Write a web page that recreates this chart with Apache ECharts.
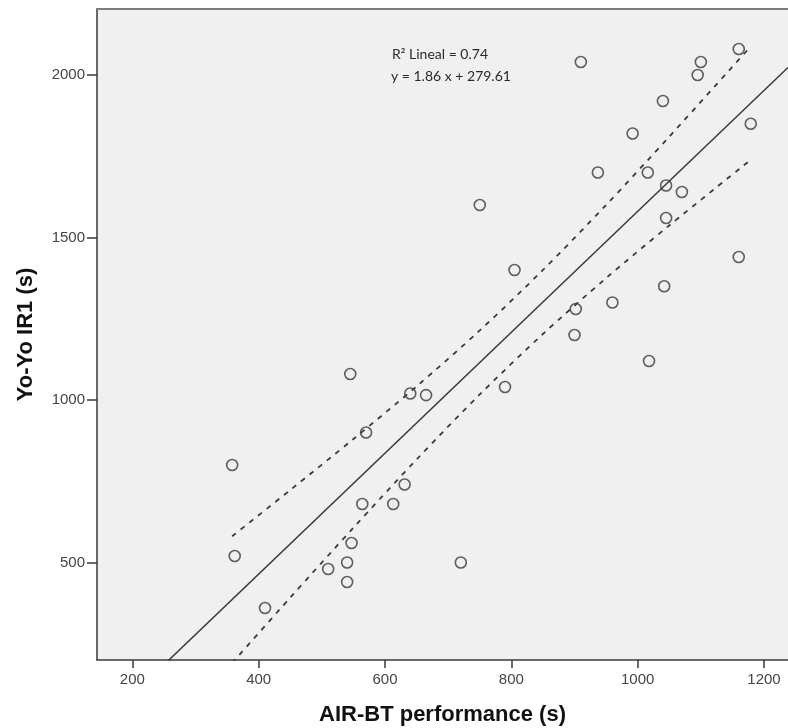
<!DOCTYPE html>
<html>
<head>
<meta charset="utf-8">
<script src="https://cdn.jsdelivr.net/npm/echarts@6/dist/echarts.min.js"></script>
<style>
html,body{margin:0;padding:0;background:#fff;}
#chart{width:788px;height:728px;}
</style>
</head>
<body>
<div id="chart"></div>
<script>
// ---- Data ----
var airbt = [358,362,410,510,540,540,547,545,564,570,613,631,640,665,720,750,790,805,910,902,900,937,960,992,1016,1018,1040,1042,1045,1045,1070,1095,1100,1160,1160,1179];
var yoyo  = [800,520,360,480,500,440,560,1080,680,900,680,740,1020,1015,500,1600,1040,1400,2040,1280,1200,1700,1300,1820,1700,1120,1920,1350,1660,1560,1640,2000,2040,2080,1440,1850];

// fitted line (as drawn): y = slope * x + intercept
var fitSlope = 1.86;
var fitIntercept = -279.61;
var fitX = [144, 1238];

// 95% mean confidence band (dashed)
var ciX     = [358, 450, 550, 650, 750, 850, 950, 1050, 1179];
var ciUpper = [581, 723, 880, 1042, 1214, 1400, 1600, 1810, 2088];
var ciLower = [191, 392, 607, 817, 1017, 1203, 1375, 1537, 1739];

var xTicks = [200, 400, 600, 800, 1000, 1200];
var yTicks = [500, 1000, 1500, 2000];

var xTitle = 'AIR-BT performance (s)';
var yTitle = 'Yo-Yo IR1 (s)';
var note1 = 'R\u00B2 Lineal = 0.74';
var note2 = 'y = 1.86 x + 279.61';

// ---- Build ----
var scatterData = airbt.map(function (x, i) { return [x, yoyo[i]]; });
var fitData = fitX.map(function (x) { return [x, fitSlope * x + fitIntercept]; });
var upData = ciX.map(function (x, i) { return [x, ciUpper[i]]; });
var loData = ciX.map(function (x, i) { return [x, ciLower[i]]; });

var axisColor = '#3a3a3a';
var plain = function (v) { return String(v); };
var chart = echarts.init(document.getElementById('chart'), null, {renderer: 'canvas'});
chart.setOption({
  animation: false,
  backgroundColor: '#ffffff',
  grid: {
    left: 97, top: 9, right: 0, bottom: 68,
    show: true, backgroundColor: '#f0f0f0', borderWidth: 0,
    containLabel: false, outerBoundsMode: 'none'
  },
  xAxis: [{
    type: 'value', min: 144, max: 1238, position: 'bottom',
    axisLine: {show: true, lineStyle: {color: axisColor, width: 1.5}},
    axisTick: {show: true, length: 8, customValues: xTicks, lineStyle: {color: axisColor, width: 1.5}},
    axisLabel: {customValues: xTicks, formatter: plain, margin: 12, color: '#444', fontSize: 15, fontFamily: 'Liberation Sans'},
    splitLine: {show: false},
    name: xTitle, nameLocation: 'middle', nameGap: 44,
    nameTextStyle: {fontSize: 22, fontWeight: 'bold', color: '#111', fontFamily: 'Liberation Sans'}
  }, {
    type: 'value', min: 144, max: 1238, position: 'top',
    axisLine: {show: true, lineStyle: {color: '#7e7e7e', width: 2}},
    axisTick: {show: false}, axisLabel: {show: false}, splitLine: {show: false}
  }],
  yAxis: {
    type: 'value', min: 200, max: 2203,
    axisLine: {show: true, lineStyle: {color: axisColor, width: 1.5}},
    axisTick: {show: true, length: 10, customValues: yTicks, lineStyle: {color: axisColor, width: 1.5}},
    axisLabel: {customValues: yTicks, formatter: plain, margin: 12, color: '#444', fontSize: 15, fontFamily: 'Liberation Sans'},
    splitLine: {show: false},
    name: yTitle, nameLocation: 'middle', nameGap: 60,
    nameTextStyle: {fontSize: 22, fontWeight: 'bold', color: '#111', fontFamily: 'Liberation Sans'}
  },
  series: [{
    type: 'line', data: fitData, showSymbol: false, symbol: 'none', clip: true,
    lineStyle: {color: '#3a3a3a', width: 1.5}, z: 2
  }, {
    type: 'line', data: upData, showSymbol: false, symbol: 'none', smooth: 0.3, clip: true,
    lineStyle: {color: '#3a3a3a', width: 1.8, type: [5, 6]}, z: 2
  }, {
    type: 'line', data: loData, showSymbol: false, symbol: 'none', smooth: 0.3, clip: true,
    lineStyle: {color: '#3a3a3a', width: 1.8, type: [5, 6]}, z: 2
  }, {
    type: 'scatter', data: scatterData, symbol: 'circle', symbolSize: 11,
    itemStyle: {color: 'rgba(0,0,0,0)', borderColor: '#3a3a3a', borderWidth: 1.6}, z: 3
  }],
  graphic: [{
    type: 'text', left: 392, top: 47,
    style: {text: note1, fontSize: 14, fontFamily: 'Lato', fill: '#2a2a2a'}
  }, {
    type: 'text', left: 391, top: 69,
    style: {text: note2, fontSize: 14, fontFamily: 'Lato', fill: '#2a2a2a'}
  }]
});
</script>
</body>
</html>
